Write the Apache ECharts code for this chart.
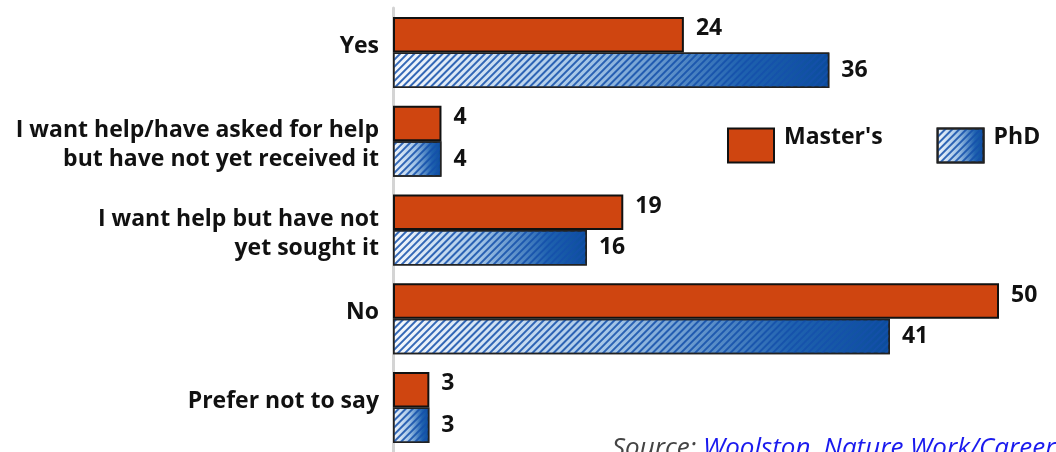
<!DOCTYPE html>
<html><head><meta charset="utf-8">
<script src="https://cdn.jsdelivr.net/npm/echarts@6/dist/echarts.min.js"></script>
<style>html,body{margin:0;padding:0;background:#fff}#c{width:1056px;height:452px}</style>
</head><body><div id="c"></div>
<script>
const categories = ["Yes", "I want help/have asked for help\nbut have not yet received it", "I want help but have not\nyet sought it", "No", "Prefer not to say"];
const masters = [24, 4, 19, 50, 3];
const phd = [36, 4, 16, 41, 3];
const seriesNames = ["Master's", "PhD"];

const chart = echarts.init(document.getElementById('c'), null, {renderer: 'canvas'});
const F = 'Open Sans';
const FS = 23;
const base = {fontFamily: F, fontWeight: 'bold', fontSize: FS, color: '#111'};
const lbl = (off) => Object.assign({show: true, position: 'right', distance: 12, offset: off}, base);
chart.setOption({
  animation: false,
  grid: {left: 393, right: 57, top: 8, bottom: -6, containLabel: false},
  legend: {
    left: 722, top: 121, itemWidth: 46, itemHeight: 34, itemGap: 54, icon: 'rect',
    textStyle: Object.assign({padding: [0, 0, 0, 5], rich: {t: Object.assign({padding: [0, 0, 16, 0]}, base)}}, base),
    formatter: n => '{t|' + n + '}',
    data: seriesNames
  },
  xAxis: {type: 'value', min: 0, max: 50, show: false},
  yAxis: {
    type: 'category', data: categories, inverse: true,
    axisLine: {show: true, lineStyle: {color: '#d4d4d4', width: 3}},
    axisTick: {show: false},
    axisLabel: Object.assign({lineHeight: 28, margin: 14, align: 'right',
      formatter: v => {
        const parts = v.split('\n');
        if (parts.length === 1) return '{s|' + v + '}';
        return parts.map(p => '{m|' + p + '}').join('\n');
      },
      rich: {
        s: Object.assign({padding: [0, 0, 12, 0], lineHeight: 30}, base),
        m: Object.assign({padding: [8, 0, 0, 0], lineHeight: 29}, base)
      }
    }, base)
  },
  series: [
    {name: seriesNames[0], type: 'bar', data: masters, barGap: '0%', barCategoryGap: '20%',
      itemStyle: {color: '#cf4510', borderColor: '#111', borderWidth: 2},
      label: lbl([0, -6])},
    {name: seriesNames[1], type: 'bar', data: phd,
      itemStyle: {
        color: new echarts.graphic.LinearGradient(0, 0, 1, 0, [
          {offset: 0, color: '#f6f9fd'}, {offset: 0.45, color: '#a2c4e6'}, {offset: 0.8, color: '#1f62b0'}, {offset: 1, color: '#0b4c9c'}
        ]),
        borderColor: '#222', borderWidth: 1.5,
        decal: {symbol: 'rect', symbolSize: 1, color: 'rgba(20,80,170,0.85)', dashArrayX: [1, 0], dashArrayY: [1.5, 3], rotation: -Math.PI / 4}
      },
      label: lbl([0, 0])}
  ],
  graphic: [{
    type: 'text', left: 612, top: 436,
    style: {
      text: '{a|Source: }{b|Woolston, Nature Work/Career Feature}',
      rich: {
        a: {fontFamily: F, fontStyle: 'italic', fontSize: 26, fill: '#444'},
        b: {fontFamily: F, fontStyle: 'italic', fontSize: 26, fill: '#1a1aee'}
      }
    }
  }]
});
</script></body></html>
